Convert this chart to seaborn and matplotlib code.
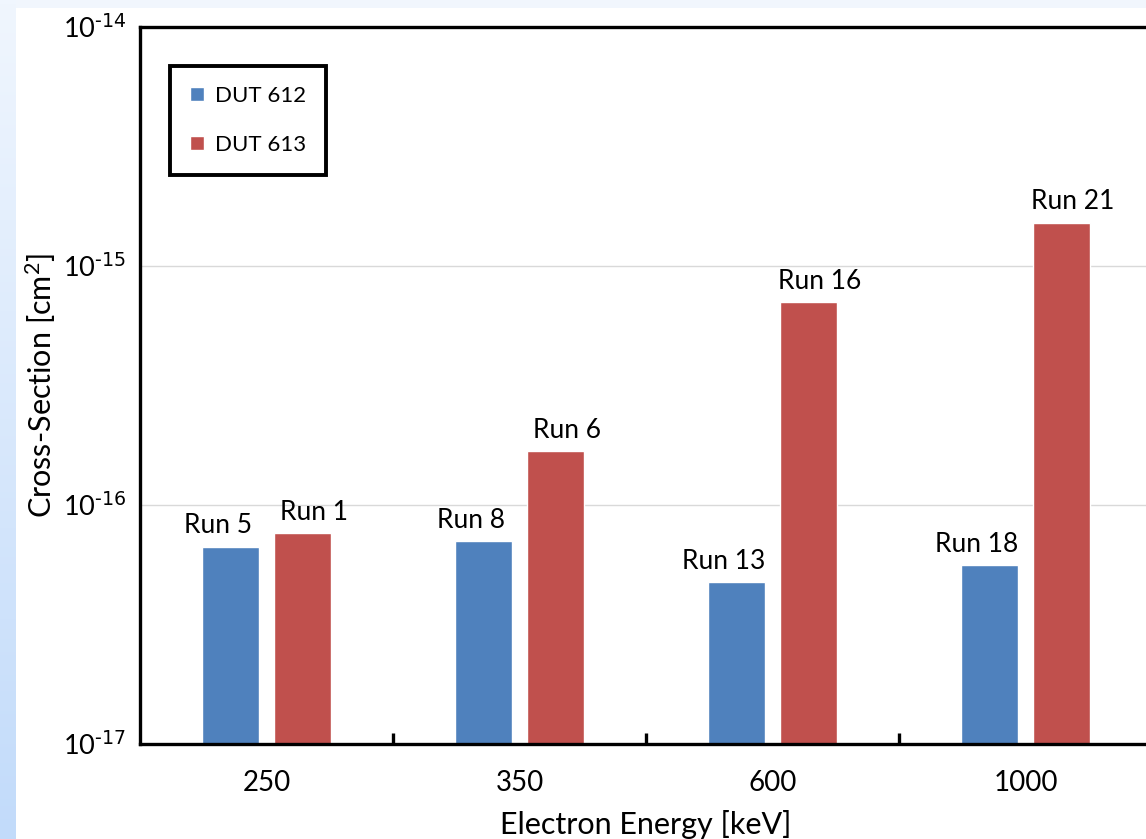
import numpy as np
import pandas as pd
import matplotlib
matplotlib.use('Agg')
import matplotlib.pyplot as plt
import matplotlib.ticker as mticker
import seaborn as sns

# data
energies = ['250', '350', '600', '1000']
dut612 = [6.7e-17, 7.05e-17, 4.75e-17, 5.6e-17]
dut613 = [7.6e-17, 1.68e-16, 7.05e-16, 1.52e-15]
runs612 = ['Run 5', 'Run 8', 'Run 13', 'Run 18']
runs613 = ['Run 1', 'Run 6', 'Run 16', 'Run 21']
devices = ['DUT 612', 'DUT 613']

df = pd.DataFrame({
    'energy': energies * 2,
    'device': [devices[0]] * 4 + [devices[1]] * 4,
    'xs': dut612 + dut613,
})

sns.set_style('white')
plt.rcParams['font.family'] = ['Lato', 'DejaVu Sans']
plt.rcParams['mathtext.default'] = 'regular'
plt.rcParams['text.color'] = 'black'
plt.rcParams['axes.labelcolor'] = 'black'
plt.rcParams['xtick.color'] = 'black'
plt.rcParams['ytick.color'] = 'black'

fig = plt.figure(figsize=(11.46, 8.39), dpi=100)
fig.patch.set_facecolor('#f1f6fd')

# left gradient strip and white panel
grad = np.linspace(0, 1, 839).reshape(-1, 1) * np.ones((1, 16))
cmap = matplotlib.colors.LinearSegmentedColormap.from_list('g', ['#f0f6fe', '#c2dbfa'])
fig.figimage(grad, xo=0, yo=0, cmap=cmap, origin='upper', zorder=-3)
fig.patches.append(plt.Rectangle((16 / 1146, 0), 1, (839 - 8) / 839, transform=fig.transFigure,
                                 facecolor='white', edgecolor='none', zorder=-2))

ax = fig.add_axes([140 / 1146, 95 / 839, 1012 / 1146, 717 / 839])
ax.set_facecolor('none')

sns.barplot(data=df, x='energy', y='xs', hue='device', order=energies, hue_order=devices,
            palette=['#4f81bd', '#c0504d'], width=0.57, gap=0.21, ax=ax,
            saturation=1, legend=True)
ax.set_yscale('log')
ax.set_ylim(1e-17, 1e-14)
ax.set_xlim(-0.5, 3.5)

# Excel-style label placement: blue labels nudged left, red nudged right
for cont, labs, dx in zip(ax.containers, [runs612, runs613], [-9, 8]):
    anns = ax.bar_label(cont, labels=labs, padding=6, fontsize=19)
    for a in anns:
        a.xyann = (dx, 6)

ax.yaxis.grid(True, which='major', color='#d9d9d9', lw=1)
ax.set_axisbelow(True)

for s in ax.spines.values():
    s.set_linewidth(2.4)
    s.set_color('black')

ax.yaxis.set_major_locator(mticker.LogLocator(base=10, numticks=10))
ax.yaxis.set_major_formatter(mticker.FuncFormatter(
    lambda v, p: '10$^{\\text{-%d}}$' % round(-np.log10(v))))
ax.yaxis.set_minor_locator(mticker.LogLocator(base=10, subs=np.arange(2, 10), numticks=20))
ax.yaxis.set_minor_formatter(mticker.NullFormatter())
ax.tick_params(axis='y', which='major', direction='in', length=8, width=2.4, pad=10, labelsize=19.5)
ax.tick_params(axis='y', which='minor', direction='in', length=6, width=2.0)

ax.set_xticks(range(4))
ax.set_xticklabels(energies)
ax.xaxis.set_minor_locator(mticker.FixedLocator([0.5, 1.5, 2.5]))
ax.tick_params(axis='x', which='major', length=0, pad=19, labelsize=20)
ax.tick_params(axis='x', which='minor', direction='in', length=8, width=2.4, bottom=True)

ax.set_xlabel('Electron Energy [keV]', fontsize=22, labelpad=10)
ax.set_ylabel('Cross-Section [cm$^2$]', fontsize=22)
ax.yaxis.set_label_coords(-0.081, 0.5)

leg = ax.legend(loc='upper left', bbox_to_anchor=(0.03, 0.946), frameon=True, fancybox=False,
                framealpha=1, fontsize=16, handlelength=0.6, handleheight=0.6, handletextpad=0.5,
                labelspacing=1.3, borderpad=0.9, borderaxespad=0)
leg.get_frame().set_edgecolor('black')
leg.get_frame().set_linewidth(2.8)
leg.set_title(None)

fig.savefig('out.png', dpi=100, facecolor=fig.get_facecolor())
